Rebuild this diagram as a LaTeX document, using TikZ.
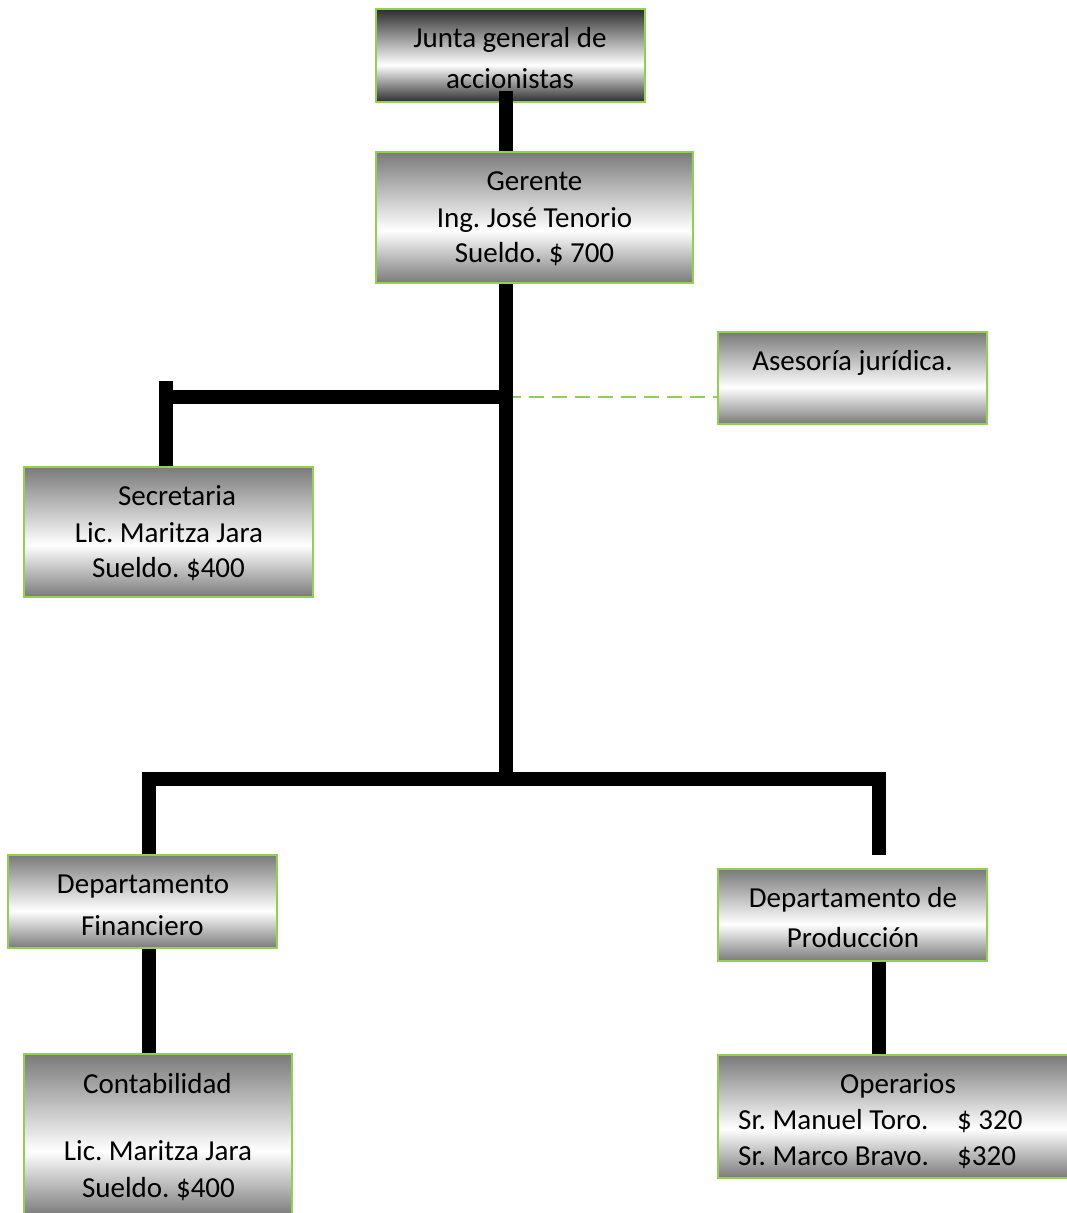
\documentclass[tikz,border=0pt]{standalone}
\usepackage{fontspec}
\setmainfont{Carlito}
\usetikzlibrary{calc}
\definecolor{bgreen}{RGB}{146,208,80}
\definecolor{bgray}{RGB}{122,122,122}
\definecolor{dgray}{RGB}{45,45,45}
\pgfdeclareverticalshading{boxshade}{100bp}{color(0bp)=(bgray); color(25bp)=(bgray); color(45bp)=(white); color(75bp)=(bgray); color(100bp)=(bgray)}
\pgfdeclareverticalshading{darkshade}{100bp}{color(0bp)=(dgray); color(25bp)=(dgray); color(45bp)=(white); color(75bp)=(dgray); color(100bp)=(dgray)}
\frenchspacing
\begin{document}
\begin{tikzpicture}[x=1pt,y=-1pt,
  box/.style={rectangle, draw=bgreen, line width=1.5pt, shading=boxshade, inner sep=0pt},
  darkbox/.style={box, shading=darkshade},
  txt/.style={inner sep=0pt, anchor=base, font=\fontsize{29}{34}\selectfont},
  ltxt/.style={txt, anchor=base west},
  conn/.style={line width=14pt, black},
  dashline/.style={line width=2pt, bgreen, dash pattern=on 15pt off 8pt}]
\useasboundingbox (0,0) rectangle (1067,1213);
\clip (0,0) rectangle (1067,1213);
% boxes
\node[darkbox, minimum width=269pt, minimum height=93pt] (junta) at (510.5,55.5) {};
\node[box, minimum width=317pt, minimum height=131pt] (gerente) at (534.5,217.5) {};
\node[box, minimum width=269pt, minimum height=92pt] (asesoria) at (852.5,378) {};
\node[box, minimum width=289pt, minimum height=130pt] (secretaria) at (168.5,532) {};
\node[box, minimum width=269pt, minimum height=93pt] (depfin) at (142.5,901.5) {};
\node[box, minimum width=269pt, minimum height=92pt] (depprod) at (852.5,915) {};
\node[box, minimum width=268pt, minimum height=162pt] (contab) at (158,1135) {};
\node[box, minimum width=360pt, minimum height=123pt] (oper) at (898,1116.5) {};
% texts
\node[txt] (j1) at (510,47) {Junta general de};
\node[txt] (j2) at (510,88) {accionistas};
\node[txt] (g1) at (534.5,190) {Gerente};
\node[txt] (g2) at (534.5,227) {Ing. José Tenorio};
\node[txt] (g3) at (534.5,262) {Sueldo. \$ 700};
\node[txt] (a1) at (852.5,370) {Asesoría jurídica.};
\node[txt] (s1) at (177,505) {Secretaria};
\node[txt] (s2) at (169,542) {Lic. Maritza Jara};
\node[txt] (s3) at (168.5,577) {Sueldo. \$400};
\node[txt] (f1) at (143,893) {Departamento};
\node[txt] (f2) at (142.5,935) {Financiero};
\node[txt] (p1) at (853,907) {Departamento de};
\node[txt] (p2) at (853,947) {Producción};
\node[txt] (c1) at (157.5,1093) {Contabilidad};
\node[txt] (c2) at (158,1160) {Lic. Maritza Jara};
\node[txt] (c3) at (158.5,1197) {Sueldo. \$400};
\node[txt] (o1) at (898,1093) {Operarios};
\node[ltxt] (o2) at (738,1129) {\makebox[219pt][l]{Sr. Manuel Toro.}\$ 320};
\node[ltxt] (o3) at (738,1165) {\makebox[219pt][l]{Sr. Marco Bravo.}\$320};
% junctions
\coordinate (b1) at (505.5,397);
\coordinate (b2) at (505.5,779);
\coordinate (sTop) at (166,381);
\coordinate (L) at (148.5,779);
\coordinate (R) at (879,855);
% connectors
\draw[dashline] (b1) -- (asesoria.west |- b1);
\draw[conn] ($(junta.south -| b1)+(0,-12)$) -- (gerente.north -| b1);
\draw[conn] (gerente.south -| b1) -- (b2);
\draw[conn] (secretaria.north -| sTop) -- (sTop);
\draw[conn] (sTop |- b1) -- (b1);
\draw[conn] (depfin.north -| L) |- (b2) -| (R);
\draw[conn] (depfin.south -| L) -- (contab.north -| L);
\draw[conn] (depprod.south -| R) -- (oper.north -| R);
\end{tikzpicture}
\end{document}
